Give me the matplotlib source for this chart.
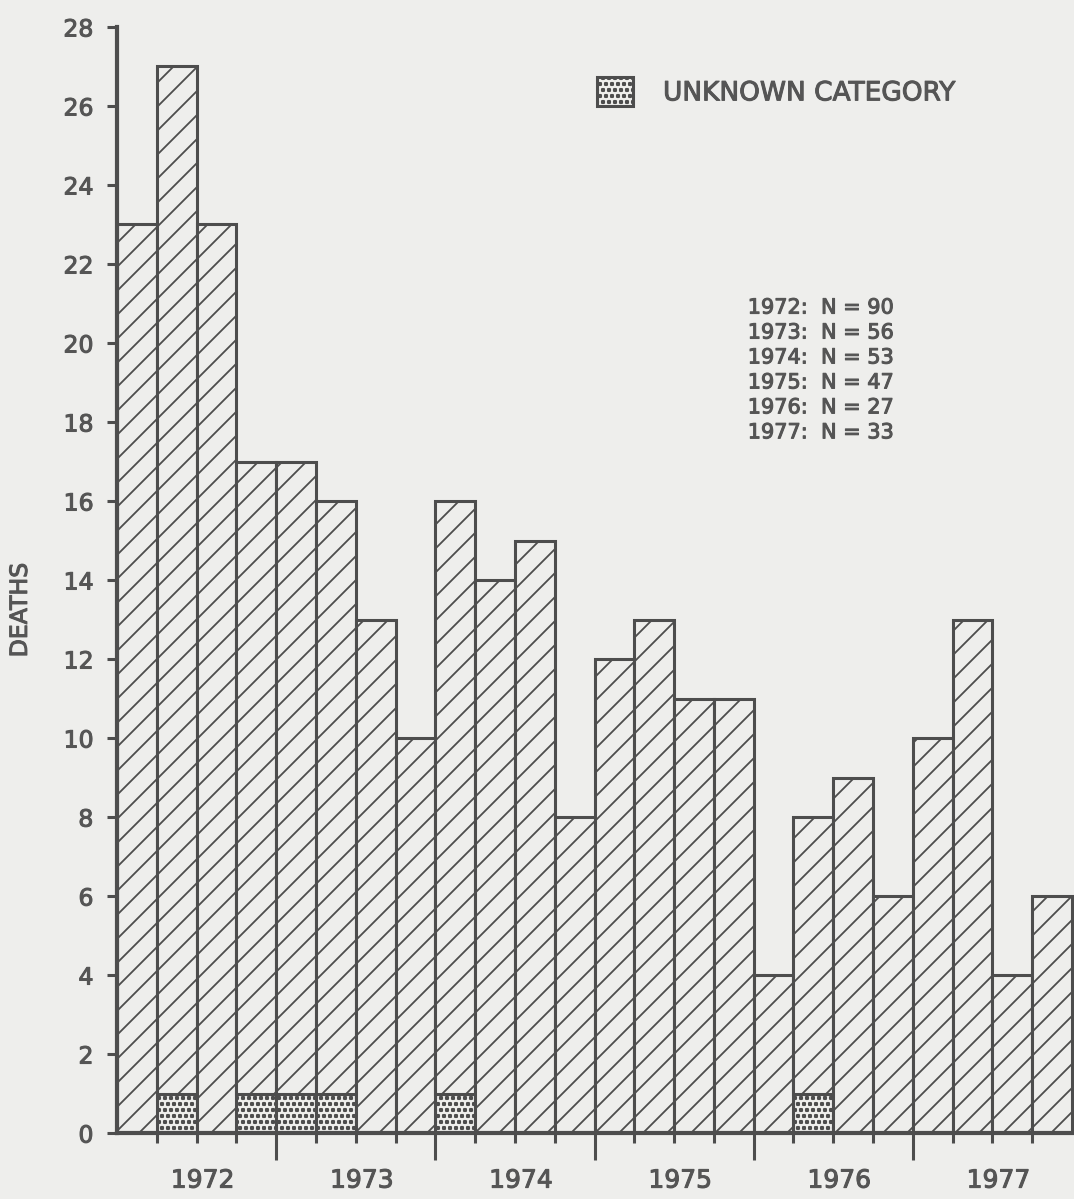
import numpy as np
import matplotlib
matplotlib.use("Agg")
import matplotlib.pyplot as plt
import matplotlib.patheffects as pe
from matplotlib.patches import Patch
from matplotlib.ticker import FixedLocator

# quarterly deaths, 1972 Q1 .. 1977 Q4
totals = [23, 27, 23, 17, 17, 16, 13, 10, 16, 14, 15, 8,
          12, 13, 11, 11, 4, 8, 9, 6, 10, 13, 4, 6]
unknown = [0, 1, 0, 1, 1, 1, 0, 0, 1, 0, 0, 0,
           0, 0, 0, 0, 0, 1, 0, 0, 0, 0, 0, 0]
years = ["1972", "1973", "1974", "1975", "1976", "1977"]
year_n = [90, 56, 53, 47, 27, 33]
yticks = list(range(0, 29, 2))

BG = "#eeeeec"
INK = "#4d4d4d"
TXT = "#555555"

# drawn at 72 dpi so that a single '/' hatch gives ~12 px spacing;
# K converts the sizes I worked out at 100 dpi
DPI = 72
K = 100 / DPI

plt.rcParams["hatch.linewidth"] = 1.3 * K
plt.rcParams["font.family"] = ["DejaVu Sans"]

# slightly heavier strokes, like the hand-lettered original
THICK = [pe.withStroke(linewidth=0.75 * K, foreground=TXT)]


def main():
    fig = plt.figure(figsize=(1074 / DPI, 1199 / DPI), dpi=DPI, facecolor=BG)
    ax = fig.add_axes([0.109, 0.055, 0.891, 0.9225], facecolor=BG)

    n = len(totals)
    x = np.arange(n)
    known = np.array(totals) - np.array(unknown)

    ax.bar(x, unknown, width=1.0, align="edge", facecolor=BG,
           edgecolor=INK, linewidth=2.2 * K, hatch="oo")
    ax.bar(x, known, width=1.0, align="edge", bottom=unknown, facecolor=BG,
           edgecolor=INK, linewidth=2.2 * K, hatch="/")

    ax.set_xlim(0, n + 0.05)
    ax.set_ylim(0, 28)

    for s in ["top", "right"]:
        ax.spines[s].set_visible(False)
    for s in ["left", "bottom"]:
        ax.spines[s].set_linewidth(3 * K)
        ax.spines[s].set_color(INK)

    ax.set_yticks(yticks)
    ax.tick_params(axis="y", length=7 * K, width=2.2 * K, color=INK,
                   pad=10 * K, labelsize=17 * K, labelcolor=TXT)
    for lab in ax.get_yticklabels():
        lab.set_path_effects(THICK)

    # x ticks: long at year boundaries, short at quarter boundaries
    ax.xaxis.set_major_locator(FixedLocator(list(range(4, n, 4))))
    ax.xaxis.set_minor_locator(FixedLocator([i for i in range(1, n) if i % 4]))
    ax.tick_params(axis="x", which="major", length=19.5 * K, width=2.2 * K,
                   color=INK, labelbottom=False)
    ax.tick_params(axis="x", which="minor", length=7.5 * K, width=2.2 * K,
                   color=INK)

    for i, yr in enumerate(years):
        ax.text(i * 4 + 2.15, -0.043, yr, transform=ax.get_xaxis_transform(),
                ha="center", va="center", fontsize=18 * K, color=TXT,
                path_effects=THICK)

    ylab = ax.set_ylabel("DEATHS", fontsize=17 * K, color=TXT)
    ylab.set_path_effects(THICK)
    ax.yaxis.set_label_coords(-0.089, 0.473)

    lines = "\n".join(f"{yr}:  N = {v}" for yr, v in zip(years, year_n))
    ax.text(15.85, 21.15, lines, ha="left", va="top", fontsize=15 * K,
            color=TXT, linespacing=1.31, path_effects=THICK)

    handle = Patch(facecolor=BG, edgecolor=INK, linewidth=2.2 * K, hatch="oo")
    leg = ax.legend([handle], ["UNKNOWN CATEGORY"], loc="upper left",
                    bbox_to_anchor=(0.5016, 0.955), frameon=False,
                    fontsize=19 * K, handlelength=1.35, handleheight=1.35,
                    handletextpad=1.15, borderpad=0, borderaxespad=0,
                    labelcolor=TXT)
    for t in leg.get_texts():
        t.set_path_effects(THICK)

    fig.savefig("out.png", dpi=DPI, facecolor=BG)


if __name__ == "__main__":
    main()
